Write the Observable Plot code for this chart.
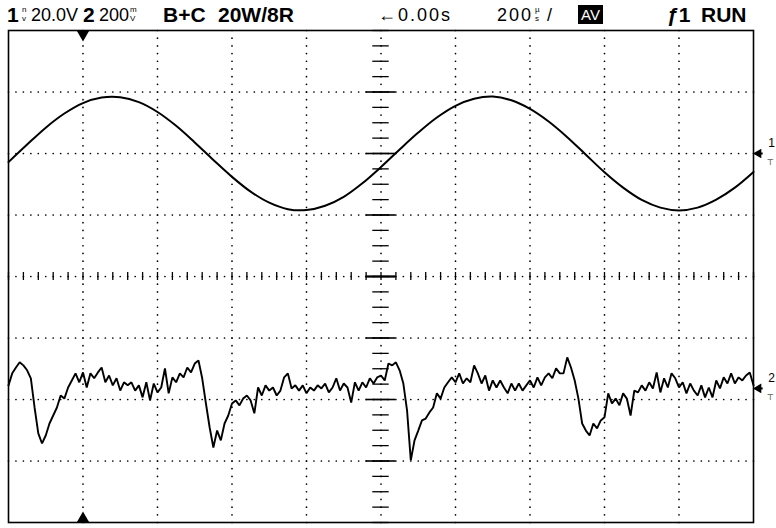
<!DOCTYPE html>
<html>
<head>
<meta charset="utf-8">
<script src="https://cdn.jsdelivr.net/npm/d3@7"></script>
<script src="https://cdn.jsdelivr.net/npm/@observablehq/plot@0.6"></script>
<style>
  html, body { margin: 0; padding: 0; background: #fff; }
  #hdr { position: relative; width: 776px; height: 28px; font-family: "Liberation Sans", Arial, sans-serif; color: #000; }
  #hdr span { position: absolute; top: 6px; font-size: 18px; line-height: 1; white-space: nowrap; }
  #hdr .b { font-weight: bold; font-size: 21px; top: 4px; }
  #hdr .w { letter-spacing: 2px; }
  #hdr .stk { font-size: 8px; line-height: 8px; }
  #hdr .box { background: #000; color: #fff; font-size: 15px; top: 5px; padding: 2px 3px; }
</style>
</head>
<body>
<div id="hdr"></div>
<div id="chart"></div>
<script>
// ---------- data ----------
const timePerDivUs = 200;          // 200 µs/div
const timeRangeUs = [-1000, 1000];  // 10 divisions
const divRange = [-4, 4];           // 8 vertical divisions

// channel 1 : 20 V/div, ground marker 2 div above centre
const ch1VoltsPerDiv = 20;
const ch1OffsetDiv = 2;
const ch1StepUs = 50;
const ch1Volts = [-2.8, 2.9, 8.4, 13.0, 16.4, 18.2, 18.3, 16.7, 13.5, 9.0, 3.6, -2.1, -7.6, -12.4, -16.0, -18.1, -18.4, -17.0, -14.1, -9.7,
  -4.4, 1.3, 6.8, 11.7, 15.5, 17.8, 18.5, 17.3, 14.5, 10.4, 5.3, -0.4, -6.1, -11.1, -15.1, -17.6, -18.5, -17.6, -15.0, -11.1, -6.0];

// channel 2 : 200 mV/div, ground marker 1.82 div below centre
const ch2mVPerDiv = 200;
const ch2OffsetDiv = -1.82;
const ch2StepUs = 10;
const ch2mV = [10, 49, 68, 85, 75, 59, 33, -62, -146, -179, -153, -114, -88, -62, -23, -33, 3, 26, 49, 20,
  52, 3, 49, 33, 52, 68, 20, 42, 10, 33, -7, 20, 10, 20, -7, 10, -29, 20, -39, 16,
  -13, 3, 65, -16, 36, 20, 49, 36, 68, 52, 81, 91, 33, -49, -127, -192, -137, -169, -114, -88,
  -49, -39, -55, -33, -23, -39, -81, 3, -23, 10, -7, 3, -23, -7, 36, 49, 0, 10, -7, 10,
  -16, 3, -7, 10, 0, 16, -13, 3, 33, -7, 16, 3, -46, 20, -7, 20, 3, 33, 16, 36,
  42, 26, 81, 75, 85, 59, 16, -72, -234, -169, -137, -104, -98, -78, -62, -16, -33, 3, 20, 36,
  20, 49, 16, 33, 20, 75, 49, 16, 42, -7, 26, 3, 26, 3, -16, 16, -7, 16, -7, 10,
  26, 3, 36, 10, 36, 49, 33, 65, 49, 49, 101, 68, 26, -33, -114, -137, -153, -114, -130, -104,
  -94, -16, -49, -33, -55, -16, -33, -88, -7, -13, 10, -7, 20, 0, 52, -13, 33, 3, 49, 33,
  3, 20, -16, 16, -7, -23, 10, -29, 3, -29, 26, 0, 36, 16, 49, 16, 36, 26, 42, 52, 10];

const triggerTimeUs = -800;
const channelMarkers = [{label: "1", div: ch1OffsetDiv}, {label: "2", div: ch2OffsetDiv}];

// header labels
const header = [
  {text: "1", left: 7, cls: "b"},
  {text: "20.0V", left: 31, cls: ""},
  {text: "2", left: 83, cls: "b"},
  {text: "200", left: 99, cls: ""},
  {text: "B+C", left: 163, cls: "b"},
  {text: "20W/8R", left: 218, cls: "b"},
  {text: "←0.00s", left: 378, cls: "w"},
  {text: "200", left: 497, cls: "w"},
  {text: "/", left: 547, cls: ""},
  {text: "ƒ1", left: 667, cls: "b"},
  {text: "RUN", left: 701, cls: "b"}
];
const stacked = [
  {top: "n", bottom: "v", left: 22},
  {top: "m", bottom: "V", left: 130},
  {top: "µ", bottom: "s", left: 535}
];
const boxLabel = {text: "AV", left: 578};

// ---------- header ----------
const hdr = document.getElementById("hdr");
for (const h of header) {
  const s = document.createElement("span");
  s.textContent = h.text; s.className = h.cls; s.style.left = h.left + "px";
  hdr.appendChild(s);
}
for (const st of stacked) {
  for (const [txt, top] of [[st.top, 6], [st.bottom, 15]]) {
    const s = document.createElement("span");
    s.className = "stk"; s.style.left = st.left + "px"; s.style.top = top + "px";
    s.textContent = txt;
    hdr.appendChild(s);
  }
}
{
  const s = document.createElement("span");
  s.className = "box"; s.style.left = boxLabel.left + "px"; s.textContent = boxLabel.text;
  hdr.appendChild(s);
}

// ---------- build tables ----------
const ch1 = ch1Volts.map((v, i) => ({t: timeRangeUs[0] + i * ch1StepUs, div: ch1OffsetDiv + v / ch1VoltsPerDiv}));
const ch2 = ch2mV.map((v, i) => ({t: timeRangeUs[0] + i * ch2StepUs, div: ch2OffsetDiv + v / ch2mVPerDiv}));

const hGrid = d3.range(divRange[0] + 1, divRange[1]);
const vGrid = d3.range(timeRangeUs[0] + timePerDivUs, timeRangeUs[1], timePerDivUs);
const hDots = hGrid.flatMap(y => d3.range(timeRangeUs[0], timeRangeUs[1] + 1, timePerDivUs / 10).map(t => ({t, y})));
const vDots = vGrid.flatMap(t => d3.range(divRange[0], divRange[1] + 0.01, 0.125).map(y => ({t, y})));
const xMinor = d3.range(timeRangeUs[0], timeRangeUs[1] + 1, timePerDivUs / 5);
const yMinor = d3.range(divRange[0], divRange[1] + 0.01, 0.25);

const chart = Plot.plot({
  width: 776,
  height: 500,
  marginLeft: 8,
  marginRight: 23,
  marginTop: 2,
  marginBottom: 6,
  x: {domain: timeRangeUs, axis: null},
  y: {domain: divRange, axis: null},
  style: {background: "#fff"},
  marks: [
    Plot.dot(hDots, {x: "t", y: "y", r: 0.85, fill: "#000", stroke: null}),
    Plot.dot(vDots, {x: "t", y: "y", r: 0.85, fill: "#000", stroke: null}),
    Plot.ruleX(xMinor, {x: d => d, y1: -0.065, y2: 0.065, stroke: "#000", strokeWidth: 1.3}),
    Plot.ruleY(yMinor, {y: d => d, x1: -22, x2: 22, stroke: "#000", strokeWidth: 1.3}),
    Plot.ruleY(hGrid, {y: d => d, x1: -40, x2: 40, stroke: "#000", strokeWidth: 1.6}),
    Plot.ruleY([0], {x1: -40, x2: 40, stroke: "#000", strokeWidth: 2}),
    Plot.line(ch1, {x: "t", y: "div", curve: "catmull-rom", stroke: "#000", strokeWidth: 2}),
    Plot.line(ch2, {x: "t", y: "div", stroke: "#000", strokeWidth: 1.9, strokeLinejoin: "miter"}),
    Plot.dot([triggerTimeUs], {x: d => d, y: divRange[1], symbol: "triangle", r: 4.5, fill: "#000", stroke: null, rotate: 180, dy: 4}),
    Plot.dot([triggerTimeUs], {x: d => d, y: divRange[0], symbol: "triangle", r: 4.5, fill: "#000", stroke: null, dy: -4}),
    Plot.frame({stroke: "#000", strokeWidth: 1.6}),
    // channel ground markers on the right edge
    Plot.ruleY(channelMarkers, {y: "div", x1: timeRangeUs[1] + 8, x2: timeRangeUs[1] + 26, stroke: "#000", strokeWidth: 2}),
    Plot.dot(channelMarkers, {x: timeRangeUs[1], y: "div", symbol: "triangle", r: 3.6, rotate: -90, dx: 5, fill: "#000", stroke: null}),
    Plot.text(channelMarkers, {x: timeRangeUs[1], y: "div", text: "label", dx: 18, dy: -10, fontSize: 12, fontFamily: "Liberation Sans"}),
    Plot.text(channelMarkers, {x: timeRangeUs[1], y: "div", text: () => "⊤", dx: 17, dy: 9, fontSize: 8, fontFamily: "DejaVu Sans"})
  ]
});
document.getElementById("chart").appendChild(chart);
</script>
</body>
</html>
